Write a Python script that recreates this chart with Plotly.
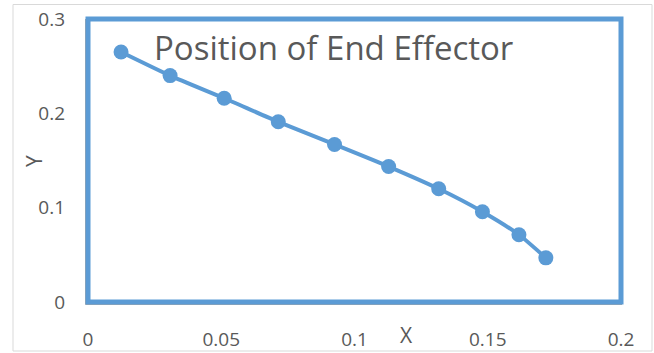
import plotly.graph_objects as go

x_vals = [0.0124, 0.0308, 0.0511, 0.0714, 0.0925, 0.1128, 0.1316, 0.148, 0.1617, 0.1718]
y_vals = [0.265, 0.240, 0.216, 0.191, 0.167, 0.1436, 0.120, 0.0957, 0.0713, 0.0468]
x_ticks = [0, 0.05, 0.1, 0.15, 0.2]
x_tick_text = ["0", "0.05", "0.1", "0.15", "0.2"]
y_ticks = [0, 0.1, 0.2, 0.3]
y_tick_text = ["0", "0.1", "0.2", "0.3"]

BLUE = "#5b9bd5"
TXT = "#595959"
FONT = "Open Sans"

W, H = 654, 353
L, R, T, B = 88, 33, 19, 51
pw, ph = W - L - R, H - T - B

def px(xp):
    return (xp - L) / pw

def py(yp):
    return (H - B - yp) / ph

fig = go.Figure()
fig.add_trace(go.Scatter(
    x=x_vals, y=y_vals, mode="lines+markers",
    line=dict(color=BLUE, width=4, shape="spline", smoothing=0.6),
    marker=dict(color=BLUE, size=15),
    showlegend=False, cliponaxis=False,
))

fig.update_layout(
    width=W, height=H,
    margin=dict(l=L, r=R, t=T, b=B, pad=0, autoexpand=False),
    paper_bgcolor="white", plot_bgcolor="white",
    font=dict(family=FONT, color=TXT, size=18),
    xaxis=dict(range=[0, 0.2], tickvals=x_ticks, ticktext=x_tick_text, automargin=False,
               showgrid=False, zeroline=False, showline=False, ticks="",
               ticklabelstandoff=24, tickfont=dict(size=19, color=TXT, family=FONT)),
    yaxis=dict(range=[0, 0.3], tickvals=y_ticks, ticktext=y_tick_text, automargin=False,
               showgrid=False, zeroline=False, showline=False, ticks="",
               ticklabelstandoff=22, tickfont=dict(size=19, color=TXT, family=FONT)),
    shapes=[
        dict(type="rect", xref="paper", yref="paper",
             x0=px(13), x1=px(652), y0=py(351), y1=py(4.5),
             line=dict(color="#d9d9d9", width=1), layer="below"),
        dict(type="line", xref="paper", yref="paper",
             x0=px(85.5), x1=px(85.5), y0=py(304.5), y1=py(19),
             line=dict(color="#a6a6a6", width=1)),
        dict(type="line", xref="paper", yref="paper",
             x0=px(85.5), x1=px(622), y0=py(304.5), y1=py(304.5),
             line=dict(color="#a6a6a6", width=1)),
        dict(type="rect", xref="paper", yref="paper",
             x0=0, x1=1, y0=0, y1=1,
             line=dict(color=BLUE, width=5)),
    ],
    annotations=[
        dict(text="Position of End Effector", xref="paper", yref="paper",
             x=px(333), y=py(48), xanchor="center", yanchor="middle",
             showarrow=False, font=dict(size=33, color=TXT, family=FONT)),
        dict(text="X", xref="paper", yref="paper",
             x=px(406), y=py(335), xanchor="center", yanchor="middle",
             showarrow=False, font=dict(size=21, color=TXT, family=FONT)),
        dict(text="Y", xref="paper", yref="paper",
             x=px(34), y=py(161), xanchor="center", yanchor="middle",
             textangle=-90, showarrow=False, font=dict(size=21, color=TXT, family=FONT)),
    ],
)

fig.write_html("out.html")
